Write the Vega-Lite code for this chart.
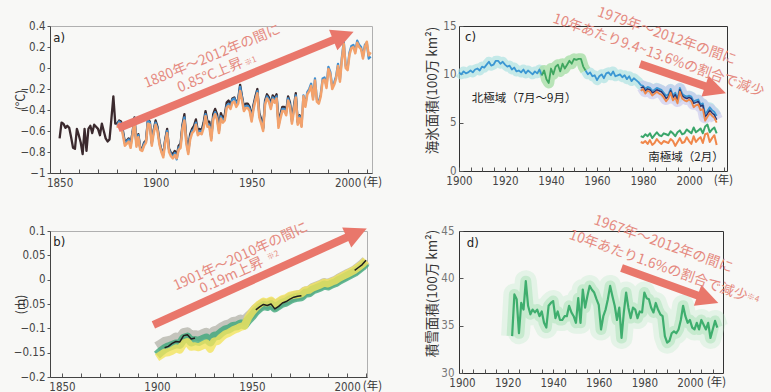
{
"$schema":"https://vega.github.io/schema/vega-lite/v6.json",
"autosize":{"type":"none"},
"padding":{"left":50,"top":26,"right":721,"bottom":366},
"background":"#f8f8f6",
"columns":2,
"spacing":{"row":58,"column":87},
"bounds":"flush",
"align":"each",
"config":{
 "view":{"stroke":"#666","strokeWidth":1},
 "axis":{"grid":false,"domain":false,"tickSize":-4,"tickColor":"#555","tickWidth":1,"labelPadding":8,"labelColor":"#444","labelFont":"Liberation Sans Narrow, DejaVu Sans Condensed, sans-serif","labelFontSize":11.5,"labelFlush":false,"labelOverlap":false,"titleFont":"Noto Sans CJK JP","titleFontWeight":"normal","titleColor":"#333","titleFontSize":12.5},
 "axisX":{"titleAngle":0,"titleBaseline":"top","titleAlign":"center","titleFontSize":11.5},
 "axisY":{"titleAngle":270,"titleBaseline":"bottom","titleAlign":"center"},
 "line":{"strokeJoin":"round"}
},
"concat":[
{
 "width":322,"height":147,
 "view":{"stroke":"#b0b0b0"},
 "data":{"values":[
{"yr":1850,"k":-0.67},{"yr":1851,"k":-0.52},{"yr":1852,"k":-0.53},{"yr":1853,"k":-0.57},{"yr":1854,"k":-0.55},{"yr":1855,"k":-0.57},{"yr":1856,"k":-0.66},{"yr":1857,"k":-0.76},{"yr":1858,"k":-0.77},{"yr":1859,"k":-0.58},
{"yr":1860,"k":-0.64},{"yr":1861,"k":-0.71},{"yr":1862,"k":-0.82},{"yr":1863,"k":-0.58},{"yr":1864,"k":-0.79},{"yr":1865,"k":-0.58},{"yr":1866,"k":-0.55},{"yr":1867,"k":-0.62},{"yr":1868,"k":-0.54},{"yr":1869,"k":-0.56},
{"yr":1870,"k":-0.58},{"yr":1871,"k":-0.64},{"yr":1872,"k":-0.53},{"yr":1873,"k":-0.6},{"yr":1874,"k":-0.67},{"yr":1875,"k":-0.7},{"yr":1876,"k":-0.68},{"yr":1877,"k":-0.48},{"yr":1878,"k":-0.27},{"yr":1879,"k":-0.53},
{"yr":1880,"k":-0.53,"o":-0.57,"b":-0.55},{"yr":1881,"k":-0.5,"o":-0.53,"b":-0.51},{"yr":1882,"k":-0.51,"o":-0.55,"b":-0.53},{"yr":1883,"k":-0.6,"o":-0.64,"b":-0.62},{"yr":1884,"k":-0.71,"o":-0.74,"b":-0.72},{"yr":1885,"k":-0.69,"o":-0.72,"b":-0.7},{"yr":1886,"k":-0.67,"o":-0.7,"b":-0.68},{"yr":1887,"k":-0.72,"o":-0.76,"b":-0.74},{"yr":1888,"k":-0.61,"o":-0.64,"b":-0.62},{"yr":1889,"k":-0.47,"o":-0.5,"b":-0.48},
{"yr":1890,"k":-0.72,"o":-0.75,"b":-0.73},{"yr":1891,"k":-0.63,"o":-0.66,"b":-0.64},{"yr":1892,"k":-0.76,"o":-0.78,"b":-0.77},{"yr":1893,"k":-0.77,"o":-0.79,"b":-0.78},{"yr":1894,"k":-0.71,"o":-0.74,"b":-0.72},{"yr":1895,"k":-0.69,"o":-0.71,"b":-0.7},{"yr":1896,"k":-0.49,"o":-0.53,"b":-0.5},{"yr":1897,"k":-0.51,"o":-0.54,"b":-0.52},{"yr":1898,"k":-0.71,"o":-0.74,"b":-0.72},{"yr":1899,"k":-0.59,"o":-0.62,"b":-0.6},
{"yr":1900,"k":-0.5,"o":-0.54,"b":-0.52},{"yr":1901,"k":-0.56,"o":-0.6,"b":-0.58},{"yr":1902,"k":-0.7,"o":-0.73,"b":-0.71},{"yr":1903,"k":-0.78,"o":-0.8,"b":-0.79},{"yr":1904,"k":-0.82,"o":-0.85,"b":-0.83},{"yr":1905,"k":-0.68,"o":-0.71,"b":-0.69},{"yr":1906,"k":-0.58,"o":-0.62,"b":-0.6},{"yr":1907,"k":-0.77,"o":-0.8,"b":-0.78},{"yr":1908,"k":-0.81,"o":-0.84,"b":-0.82},{"yr":1909,"k":-0.82,"o":-0.86,"b":-0.85},
{"yr":1910,"k":-0.79,"o":-0.83,"b":-0.81},{"yr":1911,"k":-0.84,"o":-0.86,"b":-0.87},{"yr":1912,"k":-0.74,"o":-0.78,"b":-0.76},{"yr":1913,"k":-0.72,"o":-0.76,"b":-0.74},{"yr":1914,"k":-0.54,"o":-0.58,"b":-0.56},{"yr":1915,"k":-0.44,"o":-0.5,"b":-0.47},{"yr":1916,"k":-0.68,"o":-0.72,"b":-0.7},{"yr":1917,"k":-0.77,"o":-0.82,"b":-0.8},{"yr":1918,"k":-0.63,"o":-0.68,"b":-0.66},{"yr":1919,"k":-0.58,"o":-0.62,"b":-0.6},
{"yr":1920,"k":-0.55,"o":-0.6,"b":-0.58},{"yr":1921,"k":-0.49,"o":-0.54,"b":-0.52},{"yr":1922,"k":-0.6,"o":-0.64,"b":-0.62},{"yr":1923,"k":-0.58,"o":-0.62,"b":-0.6},{"yr":1924,"k":-0.59,"o":-0.63,"b":-0.61},{"yr":1925,"k":-0.52,"o":-0.57,"b":-0.55},{"yr":1926,"k":-0.41,"o":-0.46,"b":-0.44},{"yr":1927,"k":-0.51,"o":-0.56,"b":-0.54},{"yr":1928,"k":-0.51,"o":-0.56,"b":-0.54},{"yr":1929,"k":-0.65,"o":-0.69,"b":-0.67},
{"yr":1930,"k":-0.44,"o":-0.49,"b":-0.47},{"yr":1931,"k":-0.39,"o":-0.44,"b":-0.42},{"yr":1932,"k":-0.44,"o":-0.49,"b":-0.47},{"yr":1933,"k":-0.57,"o":-0.62,"b":-0.6},{"yr":1934,"k":-0.43,"o":-0.48,"b":-0.46},{"yr":1935,"k":-0.48,"o":-0.52,"b":-0.5},{"yr":1936,"k":-0.45,"o":-0.5,"b":-0.48},{"yr":1937,"k":-0.33,"o":-0.38,"b":-0.36},{"yr":1938,"k":-0.31,"o":-0.36,"b":-0.34},{"yr":1939,"k":-0.35,"o":-0.39,"b":-0.37},
{"yr":1940,"k":-0.29,"o":-0.33,"b":-0.3},{"yr":1941,"k":-0.28,"o":-0.32,"b":-0.29},{"yr":1942,"k":-0.33,"o":-0.37,"b":-0.34},{"yr":1943,"k":-0.3,"o":-0.34,"b":-0.31},{"yr":1944,"k":-0.16,"o":-0.22,"b":-0.18},{"yr":1945,"k":-0.27,"o":-0.31,"b":-0.28},{"yr":1946,"k":-0.37,"o":-0.41,"b":-0.39},{"yr":1947,"k":-0.34,"o":-0.38,"b":-0.36},{"yr":1948,"k":-0.34,"o":-0.38,"b":-0.36},{"yr":1949,"k":-0.37,"o":-0.41,"b":-0.39},
{"yr":1950,"k":-0.47,"o":-0.51,"b":-0.49},{"yr":1951,"k":-0.35,"o":-0.39,"b":-0.37},{"yr":1952,"k":-0.27,"o":-0.31,"b":-0.29},{"yr":1953,"k":-0.2,"o":-0.24,"b":-0.22},{"yr":1954,"k":-0.43,"o":-0.47,"b":-0.45},{"yr":1955,"k":-0.49,"o":-0.53,"b":-0.51},{"yr":1956,"k":-0.57,"o":-0.6,"b":-0.58},{"yr":1957,"k":-0.31,"o":-0.35,"b":-0.33},{"yr":1958,"k":-0.25,"o":-0.29,"b":-0.27},{"yr":1959,"k":-0.28,"o":-0.32,"b":-0.3},
{"yr":1960,"k":-0.35,"o":-0.39,"b":-0.37},{"yr":1961,"k":-0.26,"o":-0.3,"b":-0.28},{"yr":1962,"k":-0.29,"o":-0.33,"b":-0.31},{"yr":1963,"k":-0.25,"o":-0.29,"b":-0.27},{"yr":1964,"k":-0.52,"o":-0.57,"b":-0.55},{"yr":1965,"k":-0.44,"o":-0.48,"b":-0.46},{"yr":1966,"k":-0.37,"o":-0.41,"b":-0.39},{"yr":1967,"k":-0.37,"o":-0.41,"b":-0.39},{"yr":1968,"k":-0.41,"o":-0.45,"b":-0.43},{"yr":1969,"k":-0.27,"o":-0.31,"b":-0.29},
{"yr":1970,"k":-0.33,"o":-0.37,"b":-0.35},{"yr":1971,"k":-0.49,"o":-0.53,"b":-0.51},{"yr":1972,"k":-0.37,"o":-0.41,"b":-0.39},{"yr":1973,"k":-0.24,"o":-0.28,"b":-0.26},{"yr":1974,"k":-0.51,"o":-0.54,"b":-0.52},{"yr":1975,"k":-0.45,"o":-0.48,"b":-0.46},{"yr":1976,"k":-0.54,"o":-0.56,"b":-0.55},{"yr":1977,"o":-0.27,"b":-0.26},{"yr":1978,"o":-0.37,"b":-0.35},{"yr":1979,"o":-0.25,"b":-0.23},
{"yr":1980,"o":-0.22,"b":-0.2},{"yr":1981,"o":-0.17,"b":-0.15},{"yr":1982,"o":-0.3,"b":-0.28},{"yr":1983,"o":-0.12,"b":-0.1},{"yr":1984,"o":-0.32,"b":-0.3},{"yr":1985,"o":-0.34,"b":-0.32},{"yr":1986,"o":-0.27,"b":-0.25},{"yr":1987,"o":-0.12,"b":-0.1},{"yr":1988,"o":-0.11,"b":-0.09},{"yr":1989,"o":-0.19,"b":-0.17},
{"yr":1990,"o":-0.01,"b":0.01},{"yr":1991,"o":-0.06,"b":-0.04},{"yr":1992,"o":-0.2,"b":-0.18},{"yr":1993,"o":-0.16,"b":-0.14},{"yr":1994,"o":-0.1,"b":-0.08},{"yr":1995,"o":0.02,"b":0.04},{"yr":1996,"o":-0.13,"b":-0.11},{"yr":1997,"o":0.08,"b":0.1},{"yr":1998,"o":0.23,"b":0.25},{"yr":1999,"o":0.0,"b":0.02},
{"yr":2000,"o":-0.02,"b":0.0},{"yr":2001,"o":0.13,"b":0.15},{"yr":2002,"o":0.19,"b":0.21},{"yr":2003,"o":0.2,"b":0.22},{"yr":2004,"o":0.14,"b":0.16},{"yr":2005,"o":0.24,"b":0.26},{"yr":2006,"o":0.2,"b":0.22},{"yr":2007,"o":0.18,"b":0.2},{"yr":2008,"o":0.09,"b":0.11},{"yr":2009,"o":0.2,"b":0.22},
{"yr":2010,"o":0.25,"b":0.24},{"yr":2011,"o":0.12,"b":0.09},{"yr":2012,"o":0.15,"b":0.11}
 ]},
 "layer":[
  {"mark":{"type":"line","color":"#3b2a2e","strokeWidth":2.3},
   "encoding":{
    "x":{"field":"yr","type":"quantitative","scale":{"domain":[1845,2012.7],"nice":false,"zero":false},
     "axis":{"values":[1850,1860,1870,1880,1890,1900,1910,1920,1930,1940,1950,1960,1970,1980,1990,2000,2010],"tickCount":100,"format":"d","labelExpr":"datum.value % 50 == 0 ? datum.label : ''","domain":true,"domainColor":"#444","title":"(年)","titleX":322,"titleY":3}},
    "y":{"field":"k","type":"quantitative","scale":{"domain":[-1,0.4],"nice":false,"zero":false},
     "axis":{"values":[-1,-0.8,-0.6,-0.4,-0.2,0,0.2,0.4],"tickCount":100,"format":"~g","tickSize":3,"labelPadding":2,"domain":true,"domainColor":"#444","title":"(°C)","titleX":-23}}}},
  {"mark":{"type":"line","color":"#3f8fd0","strokeWidth":2.3},
   "encoding":{"x":{"field":"yr","type":"quantitative"},"y":{"field":"b","type":"quantitative"}}},
  {"mark":{"type":"line","color":"#f3a26c","strokeWidth":2.5},
   "encoding":{"x":{"field":"yr","type":"quantitative"},"y":{"field":"o","type":"quantitative"}}},
  {"data":{"values":[{"x1":1880.5,"y1":-0.574,"x2":1997.8,"y2":0.306}]},
   "mark":{"type":"rule","color":"#e9776b","strokeWidth":8},
   "encoding":{"x":{"field":"x1","type":"quantitative"},"y":{"field":"y1","type":"quantitative"},"x2":{"field":"x2"},"y2":{"field":"y2"}}},
  {"data":{"values":[{"x":1997.8,"y":0.306}]},
   "mark":{"type":"point","shape":"M-1,-1L1,0L-1,1Z","size":484,"filled":true,"opacity":1,"color":"#e9776b","angle":-22.3},
   "encoding":{"x":{"field":"x","type":"quantitative"},"y":{"field":"y","type":"quantitative"}}},
  {"data":{"values":[{"x":1929.5,"y":0.108,"t":"1880年～2012年の間に"},{"x":1928.5,"y":-0.073,"t":"0.85℃上昇"}]},
   "mark":{"type":"text","font":"Noto Sans CJK JP","fontSize":14,"color":"#e58a80","angle":-22.3,"align":"center","baseline":"middle"},
   "encoding":{"x":{"field":"x","type":"quantitative"},"y":{"field":"y","type":"quantitative"},"text":{"field":"t"}}},
  {"data":{"values":[{"x":1949.5,"y":0.06,"t":"※1"}]},
   "mark":{"type":"text","font":"Noto Sans CJK JP","fontSize":8,"color":"#e58a80","angle":-22.3,"align":"center","baseline":"middle"},
   "encoding":{"x":{"field":"x","type":"quantitative"},"y":{"field":"y","type":"quantitative"},"text":{"field":"t"}}},
  {"data":{"values":[{"x":1846.7,"y":0.283,"t":"a)"}]},
   "mark":{"type":"text","font":"Liberation Sans Narrow, DejaVu Sans Condensed, sans-serif","fontSize":13,"color":"#222","align":"left","baseline":"middle"},
   "encoding":{"x":{"field":"x","type":"quantitative"},"y":{"field":"y","type":"quantitative"},"text":{"field":"t"}}}
 ]
},
{
 "width":268,"height":145,
 "view":{"stroke":"#333"},
 "data":{"values":[
{"yr":1900,"a":10.2},{"yr":1901,"a":10.0},{"yr":1902,"a":10.3},{"yr":1903,"a":10.1},{"yr":1904,"a":10.2},{"yr":1905,"a":10.4},{"yr":1906,"a":10.2},{"yr":1907,"a":10.5},{"yr":1908,"a":10.6},{"yr":1909,"a":10.4},
{"yr":1910,"a":10.8},{"yr":1911,"a":10.7},{"yr":1912,"a":11.0},{"yr":1913,"a":11.3},{"yr":1914,"a":10.9},{"yr":1915,"a":11.0},{"yr":1916,"a":11.4},{"yr":1917,"a":11.4},{"yr":1918,"a":11.1},{"yr":1919,"a":11.3},
{"yr":1920,"a":11.0},{"yr":1921,"a":10.8},{"yr":1922,"a":10.9},{"yr":1923,"a":10.5},{"yr":1924,"a":10.7},{"yr":1925,"a":10.3},{"yr":1926,"a":10.4},{"yr":1927,"a":10.2},{"yr":1928,"a":10.5},{"yr":1929,"a":10.1},
{"yr":1930,"a":10.4},{"yr":1931,"a":10.2},{"yr":1932,"a":10.0},{"yr":1933,"a":10.3},{"yr":1934,"a":10.1},{"yr":1935,"a":10.5},{"yr":1936,"a":9.9,"g":9.9},{"yr":1937,"g":10.4},{"yr":1938,"g":9.5},{"yr":1939,"g":9.1},
{"yr":1940,"g":10.6},{"yr":1941,"g":10.0},{"yr":1942,"g":10.8},{"yr":1943,"g":11.0},{"yr":1944,"g":10.3},{"yr":1945,"g":11.1},{"yr":1946,"g":10.6},{"yr":1947,"g":11.0},{"yr":1948,"g":11.4},{"yr":1949,"g":11.1},
{"yr":1950,"g":11.6},{"yr":1951,"g":11.5},{"yr":1952,"g":11.6},{"yr":1953,"g":11.6},{"yr":1954,"g":10.8},{"yr":1955,"g":10.4,"a":10.4},{"yr":1956,"a":10.0},{"yr":1957,"a":10.2},{"yr":1958,"a":9.8},{"yr":1959,"a":9.9},
{"yr":1960,"a":9.4},{"yr":1961,"a":9.8},{"yr":1962,"a":10.0},{"yr":1963,"a":9.6},{"yr":1964,"a":10.1},{"yr":1965,"a":10.2},{"yr":1966,"a":9.9},{"yr":1967,"a":10.3},{"yr":1968,"a":9.8},{"yr":1969,"a":9.9},
{"yr":1970,"a":10.0},{"yr":1971,"a":9.7},{"yr":1972,"a":9.9},{"yr":1973,"a":9.5},{"yr":1974,"a":9.8},{"yr":1975,"a":9.3},{"yr":1976,"a":9.6},{"yr":1977,"a":9.4},{"yr":1978,"a":9.2},
{"yr":1979,"a":8.9,"n":8.6,"o":8.3,"s":3.6,"t":3.0},{"yr":1980,"a":8.8,"n":8.7,"o":8.5,"s":3.5,"t":2.9},{"yr":1981,"a":8.5,"n":8.3,"o":8.0,"s":3.8,"t":3.1},{"yr":1982,"a":8.7,"n":8.5,"o":8.3,"s":3.6,"t":2.8},{"yr":1983,"a":8.6,"n":8.4,"o":8.2,"s":3.9,"t":3.2},{"yr":1984,"a":8.3,"n":8.1,"o":7.8,"s":3.4,"t":2.7},{"yr":1985,"a":8.4,"n":8.2,"o":8.0,"s":3.7,"t":2.9},{"yr":1986,"a":8.6,"n":8.4,"o":8.2,"s":4.0,"t":3.3},{"yr":1987,"a":8.5,"n":8.3,"o":8.0,"s":3.7,"t":3.0},{"yr":1988,"a":8.4,"n":8.2,"o":7.9,"s":3.6,"t":2.8},
{"yr":1989,"a":8.1,"n":7.9,"o":7.6,"s":3.9,"t":3.1},{"yr":1990,"a":7.8,"n":7.5,"o":7.2,"s":3.8,"t":3.0},{"yr":1991,"a":7.9,"n":7.7,"o":7.5,"s":3.7,"t":2.9},{"yr":1992,"a":8.5,"n":8.3,"o":8.1,"s":4.1,"t":3.3},{"yr":1993,"a":7.8,"n":7.6,"o":7.3,"s":3.9,"t":3.1},{"yr":1994,"a":8.1,"n":7.9,"o":7.6,"s":3.6,"t":2.6},{"yr":1995,"a":7.5,"n":7.3,"o":7.0,"s":4.0,"t":3.0},{"yr":1996,"a":8.6,"n":8.4,"o":8.2,"s":4.2,"t":3.4},{"yr":1997,"a":8.0,"n":7.8,"o":7.5,"s":3.8,"t":2.9},{"yr":1998,"a":7.8,"n":7.6,"o":7.3,"s":3.9,"t":3.0},
{"yr":1999,"a":7.7,"n":7.5,"o":7.2,"s":4.3,"t":3.5},{"yr":2000,"a":7.8,"n":7.6,"o":7.4,"s":4.1,"t":3.1},{"yr":2001,"a":7.7,"n":7.5,"o":7.2,"s":3.9,"t":2.8},{"yr":2002,"a":7.2,"n":7.0,"o":6.6,"s":4.5,"t":3.6},{"yr":2003,"a":7.3,"n":7.1,"o":6.8,"s":4.0,"t":3.0},{"yr":2004,"a":7.4,"n":7.2,"o":6.9,"s":4.2,"t":3.3},{"yr":2005,"a":6.9,"n":6.7,"o":6.3,"s":4.4,"t":3.5},{"yr":2006,"a":7.0,"n":6.8,"o":6.4,"s":3.9,"t":2.9},{"yr":2007,"a":5.9,"n":5.6,"o":5.2,"s":4.6,"t":3.8},{"yr":2008,"a":6.2,"n":5.9,"o":5.6,"s":4.8,"t":3.9},
{"yr":2009,"a":6.6,"n":6.3,"o":6.0,"s":4.0,"t":3.0},{"yr":2010,"a":6.3,"n":6.0,"o":5.7,"s":4.3,"t":3.4},{"yr":2011,"a":6.1,"n":5.8,"o":5.5,"s":4.5,"t":3.7},{"yr":2012,"a":5.7,"n":5.3,"o":5.0,"s":3.9,"t":2.7}
 ]},
 "layer":[
  {"mark":{"type":"line","color":"#aee2e2","strokeWidth":10,"opacity":0.7},
   "encoding":{
    "x":{"field":"yr","type":"quantitative","scale":{"domain":[1900,2016.5],"nice":false,"zero":false},
     "axis":{"values":[1900,1905,1910,1915,1920,1925,1930,1935,1940,1945,1950,1955,1960,1965,1970,1975,1980,1985,1990,1995,2000,2005,2010,2015],"tickCount":100,"format":"d","labelExpr":"datum.value % 20 == 0 ? datum.label : ''","title":"(年)","titleX":264,"titleY":3}},
    "y":{"field":"a","type":"quantitative","scale":{"domain":[0,15],"nice":false,"zero":false},
     "axis":{"values":[0,5,10,15],"tickCount":100,"format":"d","labelPadding":7,"labelColor":"#666","tickSize":-4,"title":"海氷面積(100万 km²)","titleX":-20,"titleY":64,"titleFontSize":13.5}}}},
  {"mark":{"type":"line","color":"#a8dfa8","strokeWidth":11,"opacity":0.8},
   "encoding":{"x":{"field":"yr","type":"quantitative"},"y":{"field":"g","type":"quantitative"}}},
  {"mark":{"type":"line","color":"#c6c4ec","strokeWidth":13,"opacity":0.6},
   "encoding":{"x":{"field":"yr","type":"quantitative"},"y":{"field":"n","type":"quantitative"}}},
  {"mark":{"type":"line","color":"#3b97d3","strokeWidth":1.8},
   "encoding":{"x":{"field":"yr","type":"quantitative"},"y":{"field":"a","type":"quantitative"}}},
  {"mark":{"type":"line","color":"#3fa65f","strokeWidth":1.8},
   "encoding":{"x":{"field":"yr","type":"quantitative"},"y":{"field":"g","type":"quantitative"}}},
  {"mark":{"type":"line","color":"#2b3470","strokeWidth":1.5},
   "encoding":{"x":{"field":"yr","type":"quantitative"},"y":{"field":"n","type":"quantitative"}}},
  {"mark":{"type":"line","color":"#f0884a","strokeWidth":1.8},
   "encoding":{"x":{"field":"yr","type":"quantitative"},"y":{"field":"o","type":"quantitative"}}},
  {"mark":{"type":"line","color":"#3aa66a","strokeWidth":2},
   "encoding":{"x":{"field":"yr","type":"quantitative"},"y":{"field":"s","type":"quantitative"}}},
  {"mark":{"type":"line","color":"#f0874a","strokeWidth":2},
   "encoding":{"x":{"field":"yr","type":"quantitative"},"y":{"field":"t","type":"quantitative"}}},
  {"data":{"values":[{"x1":1978.7,"y1":11.07,"x2":2011.5,"y2":8.41}]},
   "mark":{"type":"rule","color":"#e9776b","strokeWidth":8},
   "encoding":{"x":{"field":"x1","type":"quantitative"},"y":{"field":"y1","type":"quantitative"},"x2":{"field":"x2"},"y2":{"field":"y2"}}},
  {"data":{"values":[{"x":2011.5,"y":8.41}]},
   "mark":{"type":"point","shape":"M-1,-1L1,0L-1,1Z","size":484,"filled":true,"opacity":1,"color":"#e9776b","angle":18.9},
   "encoding":{"x":{"field":"x","type":"quantitative"},"y":{"field":"y","type":"quantitative"}}},
  {"data":{"values":[{"x":1990.3,"y":13.93,"t":"1979年～2012年の間に"},{"x":1986.7,"y":11.93,"t":"10年あたり9.4~13.6%の割合で減少"}]},
   "mark":{"type":"text","font":"Noto Sans CJK JP","fontSize":14,"color":"#e58a80","angle":19.5,"align":"center","baseline":"middle"},
   "encoding":{"x":{"field":"x","type":"quantitative"},"y":{"field":"y","type":"quantitative"},"text":{"field":"t"}}},
  {"data":{"values":[{"x":1905.5,"y":7.45,"t":"北極域（7月～9月）"},{"x":1982.3,"y":1.32,"t":"南極域（2月）"}]},
   "mark":{"type":"text","font":"Noto Sans CJK JP","fontSize":11.5,"color":"#222","align":"left","baseline":"middle"},
   "encoding":{"x":{"field":"x","type":"quantitative"},"y":{"field":"y","type":"quantitative"},"text":{"field":"t"}}},
  {"data":{"values":[{"x":1902.6,"y":13.83,"t":"c)"}]},
   "mark":{"type":"text","font":"Liberation Sans Narrow, DejaVu Sans Condensed, sans-serif","fontSize":13,"color":"#222","align":"left","baseline":"middle"},
   "encoding":{"x":{"field":"x","type":"quantitative"},"y":{"field":"y","type":"quantitative"},"text":{"field":"t"}}}
 ]
},
{
 "width":317,"height":146,
 "view":{"stroke":"#b0b0b0"},
 "data":{"values":[
{"yr":1900,"gr":-0.138,"gn":-0.155,"ye":-0.16},{"yr":1902,"gr":-0.133,"gn":-0.148,"ye":-0.155},{"yr":1904,"gr":-0.128,"gn":-0.142,"ye":-0.15,"k1":-0.14},{"yr":1906,"gr":-0.126,"gn":-0.138,"ye":-0.149,"k1":-0.137},{"yr":1908,"gr":-0.124,"gn":-0.135,"ye":-0.146,"k1":-0.131},
{"yr":1910,"gr":-0.119,"gn":-0.132,"ye":-0.141,"k1":-0.127},{"yr":1912,"gr":-0.121,"gn":-0.133,"ye":-0.144,"k1":-0.128},{"yr":1914,"gr":-0.11,"gn":-0.121,"ye":-0.131,"k1":-0.115},{"yr":1916,"gr":-0.108,"gn":-0.118,"ye":-0.128,"k1":-0.113},{"yr":1918,"gr":-0.116,"gn":-0.128,"ye":-0.138,"k1":-0.122},
{"yr":1920,"gr":-0.114,"gn":-0.125,"ye":-0.137,"k1":-0.12},{"yr":1922,"gr":-0.116,"gn":-0.127,"ye":-0.139},{"yr":1924,"gr":-0.112,"gn":-0.123,"ye":-0.135},{"yr":1926,"gr":-0.109,"gn":-0.12,"ye":-0.131},{"yr":1928,"gr":-0.117,"gn":-0.128,"ye":-0.142},
{"yr":1930,"gr":-0.106,"gn":-0.116,"ye":-0.127},{"yr":1932,"gr":-0.104,"gn":-0.115,"ye":-0.126},{"yr":1934,"gr":-0.098,"gn":-0.108,"ye":-0.118},{"yr":1936,"gr":-0.094,"gn":-0.103,"ye":-0.112},{"yr":1938,"gr":-0.092,"gn":-0.101,"ye":-0.109},
{"yr":1940,"gr":-0.087,"gn":-0.096,"ye":-0.104},{"yr":1942,"gr":-0.086,"gn":-0.095,"ye":-0.101},{"yr":1944,"gr":-0.082,"gn":-0.091,"ye":-0.097},{"yr":1946,"gr":-0.084,"gn":-0.093,"ye":-0.095},{"yr":1948,"gr":-0.076,"gn":-0.083,"ye":-0.078},
{"yr":1950,"gr":-0.069,"gn":-0.075,"ye":-0.066},{"yr":1952,"gr":-0.06,"gn":-0.065,"ye":-0.057,"k2":-0.062},{"yr":1954,"gr":-0.054,"gn":-0.058,"ye":-0.05,"k2":-0.056},{"yr":1956,"gr":-0.049,"gn":-0.053,"ye":-0.045,"k2":-0.051},{"yr":1958,"gr":-0.051,"gn":-0.055,"ye":-0.047,"k2":-0.053},
{"yr":1960,"gr":-0.047,"gn":-0.051,"ye":-0.043,"k2":-0.05},{"yr":1962,"gr":-0.054,"gn":-0.058,"ye":-0.05,"k2":-0.06},{"yr":1964,"gr":-0.049,"gn":-0.053,"ye":-0.045,"k2":-0.055},{"yr":1966,"gr":-0.044,"gn":-0.048,"ye":-0.04,"k2":-0.048},{"yr":1968,"gr":-0.042,"gn":-0.046,"ye":-0.038,"k2":-0.045},
{"yr":1970,"gr":-0.037,"gn":-0.041,"ye":-0.033,"k2":-0.04},{"yr":1972,"gr":-0.034,"gn":-0.038,"ye":-0.031,"k2":-0.036},{"yr":1974,"gr":-0.032,"gn":-0.036,"ye":-0.03,"k2":-0.034},{"yr":1976,"gr":-0.031,"gn":-0.035,"ye":-0.028,"k2":-0.033},{"yr":1978,"gr":-0.024,"gn":-0.028,"ye":-0.022},
{"yr":1980,"gr":-0.023,"gn":-0.027,"ye":-0.021},{"yr":1982,"gr":-0.017,"gn":-0.021,"ye":-0.016},{"yr":1984,"gr":-0.014,"gn":-0.018,"ye":-0.013},{"yr":1986,"gr":-0.011,"gn":-0.015,"ye":-0.01},{"yr":1988,"gr":-0.007,"gn":-0.011,"ye":-0.006},
{"yr":1990,"gr":-0.009,"gn":-0.013,"ye":-0.008},{"yr":1992,"gr":-0.005,"gn":-0.009,"ye":-0.004},{"yr":1994,"gr":-0.002,"gn":-0.006,"ye":-0.001},{"yr":1996,"gr":0.003,"gn":-0.001,"ye":0.004},{"yr":1998,"gr":0.007,"gn":0.003,"ye":0.008},
{"yr":2000,"gr":0.011,"gn":0.007,"ye":0.012},{"yr":2002,"gr":0.015,"gn":0.011,"ye":0.016},{"yr":2004,"gr":0.019,"gn":0.015,"ye":0.02,"k3":0.019},{"yr":2006,"gr":0.025,"gn":0.021,"ye":0.026,"k3":0.025},{"yr":2008,"gr":0.031,"gn":0.027,"ye":0.032,"k3":0.031},{"yr":2010,"gr":0.039,"gn":0.035,"ye":0.04,"k3":0.04}
 ]},
 "layer":[
  {"mark":{"type":"line","color":"#b7b7ae","strokeWidth":10,"opacity":0.8},
   "encoding":{
    "x":{"field":"yr","type":"quantitative","scale":{"domain":[1843.7,2010.5],"nice":false,"zero":false},
     "axis":{"values":[1850,1860,1870,1880,1890,1900,1910,1920,1930,1940,1950,1960,1970,1980,1990,2000,2010],"tickCount":100,"format":"d","labelExpr":"datum.value % 50 == 0 ? datum.label : ''","domain":true,"domainColor":"#444","title":"(年)","titleX":322,"titleY":3}},
    "y":{"field":"gr","type":"quantitative","scale":{"domain":[-0.2,0.1],"nice":false,"zero":false},
     "axis":{"values":[-0.2,-0.15,-0.1,-0.05,0,0.05,0.1],"tickCount":100,"format":"~g","tickSize":3,"labelPadding":2,"domain":true,"domainColor":"#444","title":"(m)","titleX":-23}}}},
  {"mark":{"type":"line","color":"#3ea87a","strokeWidth":9,"opacity":0.8},
   "encoding":{"x":{"field":"yr","type":"quantitative"},"y":{"field":"gn","type":"quantitative"}}},
  {"mark":{"type":"line","color":"#f2e45c","strokeWidth":8,"opacity":0.8},
   "encoding":{"x":{"field":"yr","type":"quantitative"},"y":{"field":"ye","type":"quantitative"}}},
  {"mark":{"type":"line","color":"#1e1e1e","strokeWidth":1.5},
   "encoding":{"x":{"field":"yr","type":"quantitative"},"y":{"field":"k1","type":"quantitative"}}},
  {"mark":{"type":"line","color":"#1e1e1e","strokeWidth":1.5},
   "encoding":{"x":{"field":"yr","type":"quantitative"},"y":{"field":"k2","type":"quantitative"}}},
  {"mark":{"type":"line","color":"#1e1e1e","strokeWidth":1.5},
   "encoding":{"x":{"field":"yr","type":"quantitative"},"y":{"field":"k3","type":"quantitative"}}},
  {"data":{"values":[{"x1":1898.1,"y1":-0.093,"x2":2005.1,"y2":0.096}]},
   "mark":{"type":"rule","color":"#e9776b","strokeWidth":8},
   "encoding":{"x":{"field":"x1","type":"quantitative"},"y":{"field":"y1","type":"quantitative"},"x2":{"field":"x2"},"y2":{"field":"y2"}}},
  {"data":{"values":[{"x":2005.1,"y":0.096}]},
   "mark":{"type":"point","shape":"M-1,-1L1,0L-1,1Z","size":484,"filled":true,"opacity":1,"color":"#e9776b","angle":-24.4},
   "encoding":{"x":{"field":"x","type":"quantitative"},"y":{"field":"y","type":"quantitative"}}},
  {"data":{"values":[{"x":1944.1,"y":0.047,"t":"1901年～2010年の間に"},{"x":1939.3,"y":0.008,"t":"0.19m上昇"}]},
   "mark":{"type":"text","font":"Noto Sans CJK JP","fontSize":14,"color":"#e58a80","angle":-24.4,"align":"center","baseline":"middle"},
   "encoding":{"x":{"field":"x","type":"quantitative"},"y":{"field":"y","type":"quantitative"},"text":{"field":"t"}}},
  {"data":{"values":[{"x":1961.1,"y":0.049,"t":"※2"}]},
   "mark":{"type":"text","font":"Noto Sans CJK JP","fontSize":8,"color":"#e58a80","angle":-24.4,"align":"center","baseline":"middle"},
   "encoding":{"x":{"field":"x","type":"quantitative"},"y":{"field":"y","type":"quantitative"},"text":{"field":"t"}}},
  {"data":{"values":[{"x":1845.4,"y":0.078,"t":"b)"}]},
   "mark":{"type":"text","font":"Liberation Sans Narrow, DejaVu Sans Condensed, sans-serif","fontSize":13,"color":"#222","align":"left","baseline":"middle"},
   "encoding":{"x":{"field":"x","type":"quantitative"},"y":{"field":"y","type":"quantitative"},"text":{"field":"t"}}}
 ]
},
{
 "width":264,"height":142,
 "view":{"stroke":"#333"},
 "data":{"values":[
{"yr":1922,"v":33.9},{"yr":1923,"v":38.3},{"yr":1924,"v":37.8},{"yr":1925,"v":34.2},{"yr":1926,"v":37.4},{"yr":1927,"v":36.7},{"yr":1928,"v":39.7},{"yr":1929,"v":37.1},
{"yr":1930,"v":36.2},{"yr":1931,"v":36.7},{"yr":1932,"v":36.4},{"yr":1933,"v":36.7},{"yr":1934,"v":36.0},{"yr":1935,"v":36.5},{"yr":1936,"v":35.3},{"yr":1937,"v":34.8},{"yr":1938,"v":37.1},{"yr":1939,"v":37.4},
{"yr":1940,"v":37.6},{"yr":1941,"v":35.8},{"yr":1942,"v":36.5},{"yr":1943,"v":35.6},{"yr":1944,"v":35.6},{"yr":1945,"v":36.0},{"yr":1946,"v":36.0},{"yr":1947,"v":37.1},{"yr":1948,"v":36.4},{"yr":1949,"v":36.0},
{"yr":1950,"v":35.3},{"yr":1951,"v":37.9},{"yr":1952,"v":35.3},{"yr":1953,"v":38.8},{"yr":1954,"v":36.9},{"yr":1955,"v":38.1},{"yr":1956,"v":39.2},{"yr":1957,"v":38.8},{"yr":1958,"v":38.5},{"yr":1959,"v":37.8},
{"yr":1960,"v":37.2},{"yr":1961,"v":34.6},{"yr":1962,"v":36.0},{"yr":1963,"v":36.7},{"yr":1964,"v":37.8},{"yr":1965,"v":39.2},{"yr":1966,"v":38.1},{"yr":1967,"v":37.1},{"yr":1968,"v":35.6},{"yr":1969,"v":36.9},
{"yr":1970,"v":33.7},{"yr":1971,"v":36.4},{"yr":1972,"v":38.5},{"yr":1973,"v":36.9},{"yr":1974,"v":35.8},{"yr":1975,"v":36.9},{"yr":1976,"v":36.7},{"yr":1977,"v":35.8},{"yr":1978,"v":36.5},{"yr":1979,"v":36.4},
{"yr":1980,"v":38.5},{"yr":1981,"v":37.9},{"yr":1982,"v":37.8},{"yr":1983,"v":36.9},{"yr":1984,"v":36.4},{"yr":1985,"v":37.4},{"yr":1986,"v":36.7},{"yr":1987,"v":36.2},{"yr":1988,"v":36.0},{"yr":1989,"v":33.9},
{"yr":1990,"v":33.2},{"yr":1991,"v":33.4},{"yr":1992,"v":34.2},{"yr":1993,"v":34.4},{"yr":1994,"v":34.2},{"yr":1995,"v":34.6},{"yr":1996,"v":35.6},{"yr":1997,"v":37.1},{"yr":1998,"v":36.0},{"yr":1999,"v":35.3},
{"yr":2000,"v":35.6},{"yr":2001,"v":34.8},{"yr":2002,"v":34.6},{"yr":2003,"v":35.3},{"yr":2004,"v":34.6},{"yr":2005,"v":35.6},{"yr":2006,"v":35.1},{"yr":2007,"v":34.6},{"yr":2008,"v":35.3},{"yr":2009,"v":33.7},
{"yr":2010,"v":34.6},{"yr":2011,"v":35.5},{"yr":2012,"v":34.8}
 ]},
 "layer":[
  {"mark":{"type":"line","color":"#b5e8c4","strokeWidth":22,"opacity":0.3},
   "encoding":{
    "x":{"field":"yr","type":"quantitative","scale":{"domain":[1898.7,2014.5],"nice":false,"zero":false},
     "axis":{"values":[1900,1905,1910,1915,1920,1925,1930,1935,1940,1945,1950,1955,1960,1965,1970,1975,1980,1985,1990,1995,2000,2005,2010],"tickCount":100,"format":"d","labelExpr":"datum.value % 20 == 0 ? datum.label : ''","title":"(年)","titleX":257,"titleY":3}},
    "y":{"field":"v","type":"quantitative","scale":{"domain":[30,45],"nice":false,"zero":false},
     "axis":{"values":[30,35,40,45],"tickCount":100,"format":"d","labelPadding":9,"labelColor":"#777","title":"積雪面積(100万 km²)","titleX":-20,"titleY":62,"titleFontSize":13.5}}}},
  {"mark":{"type":"line","color":"#98dcaa","strokeWidth":11,"opacity":0.4},
   "encoding":{"x":{"field":"yr","type":"quantitative"},"y":{"field":"v","type":"quantitative"}}},
  {"mark":{"type":"line","color":"#3fae6e","strokeWidth":2.2},
   "encoding":{"x":{"field":"yr","type":"quantitative"},"y":{"field":"v","type":"quantitative"}}},
  {"data":{"values":[{"x1":1970.0,"y1":41.1,"x2":2007.9,"y2":37.8}]},
   "mark":{"type":"rule","color":"#e9776b","strokeWidth":8},
   "encoding":{"x":{"field":"x1","type":"quantitative"},"y":{"field":"y1","type":"quantitative"},"x2":{"field":"x2"},"y2":{"field":"y2"}}},
  {"data":{"values":[{"x":2007.9,"y":37.8}]},
   "mark":{"type":"point","shape":"M-1,-1L1,0L-1,1Z","size":484,"filled":true,"opacity":1,"color":"#e9776b","angle":19.9},
   "encoding":{"x":{"field":"x","type":"quantitative"},"y":{"field":"y","type":"quantitative"}}},
  {"data":{"values":[{"x":1988.3,"y":43.6,"t":"1967年～2012年の間に"},{"x":1986.1,"y":41.3,"t":"10年あたり1.6%の割合で減少"}]},
   "mark":{"type":"text","font":"Noto Sans CJK JP","fontSize":14,"color":"#e58a80","angle":19.5,"align":"center","baseline":"middle"},
   "encoding":{"x":{"field":"x","type":"quantitative"},"y":{"field":"y","type":"quantitative"},"text":{"field":"t"}}},
  {"data":{"values":[{"x":2027.6,"y":37.9,"t":"※4"}]},
   "mark":{"type":"text","font":"Noto Sans CJK JP","fontSize":8,"color":"#e58a80","angle":19.5,"align":"center","baseline":"middle"},
   "encoding":{"x":{"field":"x","type":"quantitative"},"y":{"field":"y","type":"quantitative"},"text":{"field":"t"}}},
  {"data":{"values":[{"x":1902.1,"y":43.7,"t":"d)"}]},
   "mark":{"type":"text","font":"Liberation Sans Narrow, DejaVu Sans Condensed, sans-serif","fontSize":13,"color":"#222","align":"left","baseline":"middle"},
   "encoding":{"x":{"field":"x","type":"quantitative"},"y":{"field":"y","type":"quantitative"},"text":{"field":"t"}}}
 ]
}
]
}
